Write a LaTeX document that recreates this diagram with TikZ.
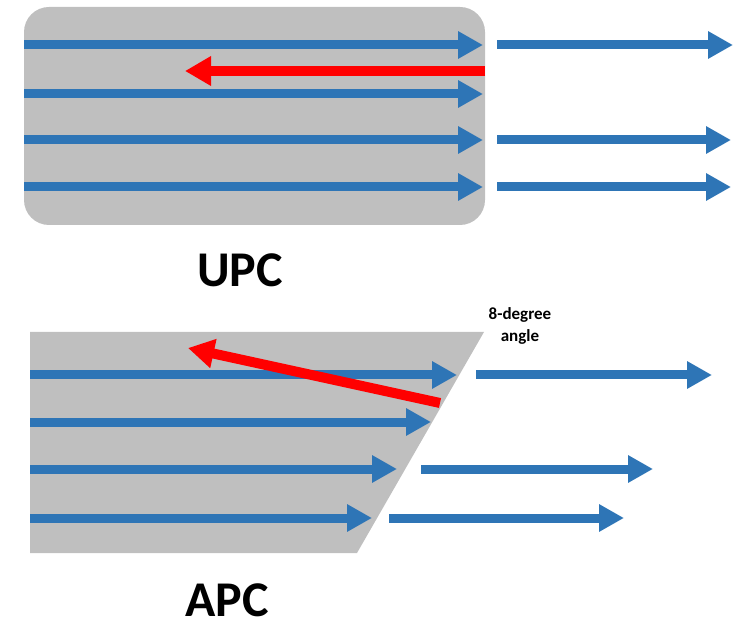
\documentclass[tikz,border=0pt]{standalone}
\usepackage{fontspec}
\setmainfont{Carlito}
\usetikzlibrary{arrows.meta,positioning}
\definecolor{rayblue}{HTML}{2E75B6}
\definecolor{backred}{HTML}{FF0000}
\definecolor{ferrulegray}{HTML}{BFBFBF}
\tikzset{
  ferrule/.style={fill=ferrulegray, draw=none, inner sep=0pt},
  ray/.style={-{Triangle[length=25pt,width=26pt]}, line width=9pt, draw=rayblue},
  backray/.style={-{Triangle[length=26pt,width=28pt]}, line width=10pt, draw=backred},
  title/.style={font=\bfseries\fontsize{50}{50}\selectfont, text=black},
  smalllabel/.style={font=\bfseries\fontsize{17}{22}\selectfont, align=center},
}
\begin{document}
\begin{tikzpicture}[x=1pt,y=-1pt]
\useasboundingbox (0,0) rectangle (742,644);
% UPC ferrule
\node[ferrule, rounded corners=25pt, minimum width=461pt, minimum height=218pt] (upc) at (254.5,116) {};
\foreach \n/\y in {1/45,2/94,3/140,4/187}{\coordinate (u\n s) at (24,\y);\coordinate (u\n e) at (483,\y);}
\foreach \n/\y/\e in {1/45/733,3/140/731,4/187/731}{\coordinate (o\n s) at (497,\y);\coordinate (o\n e) at (\e,\y);}
\coordinate (ur s) at (485,71);\coordinate (ur e) at (185,71);
\foreach \n in {1,2,3,4}{\draw[ray](u\n s)--(u\n e);}
\foreach \n in {1,3,4}{\draw[ray](o\n s)--(o\n e);}
\draw[backray](ur s)--(ur e);
\node[title] (upclabel) at (240,270) {UPC};
% APC ferrule
\coordinate (apc nw) at (30,332);\coordinate (apc ne) at (484,332);\coordinate (apc se) at (357,553);\coordinate (apc sw) at (30,553);
\fill[ferrulegray](apc nw)--(apc ne)--(apc se)--(apc sw)--cycle;
\foreach \n/\y/\e in {1/375/457,2/422/431,3/469/397,4/518/372}{\coordinate (a\n s) at (30,\y);\coordinate (a\n e) at (\e,\y);}
\foreach \n/\y/\s/\e in {1/375/476/712,3/469/421/653,4/518/389/624}{\coordinate (p\n s) at (\s,\y);\coordinate (p\n e) at (\e,\y);}
\coordinate (ar s) at (440,403);\coordinate (ar e) at (188,348);
\foreach \n in {1,2,3,4}{\draw[ray](a\n s)--(a\n e);}
\foreach \n in {1,3,4}{\draw[ray](p\n s)--(p\n e);}
\draw[backray](ar s)--(ar e);
\node[smalllabel] (angle) at (520,326) {8-degree\\angle};
\node[title] (apclabel) at (227,600) {APC};
\end{tikzpicture}
\end{document}
